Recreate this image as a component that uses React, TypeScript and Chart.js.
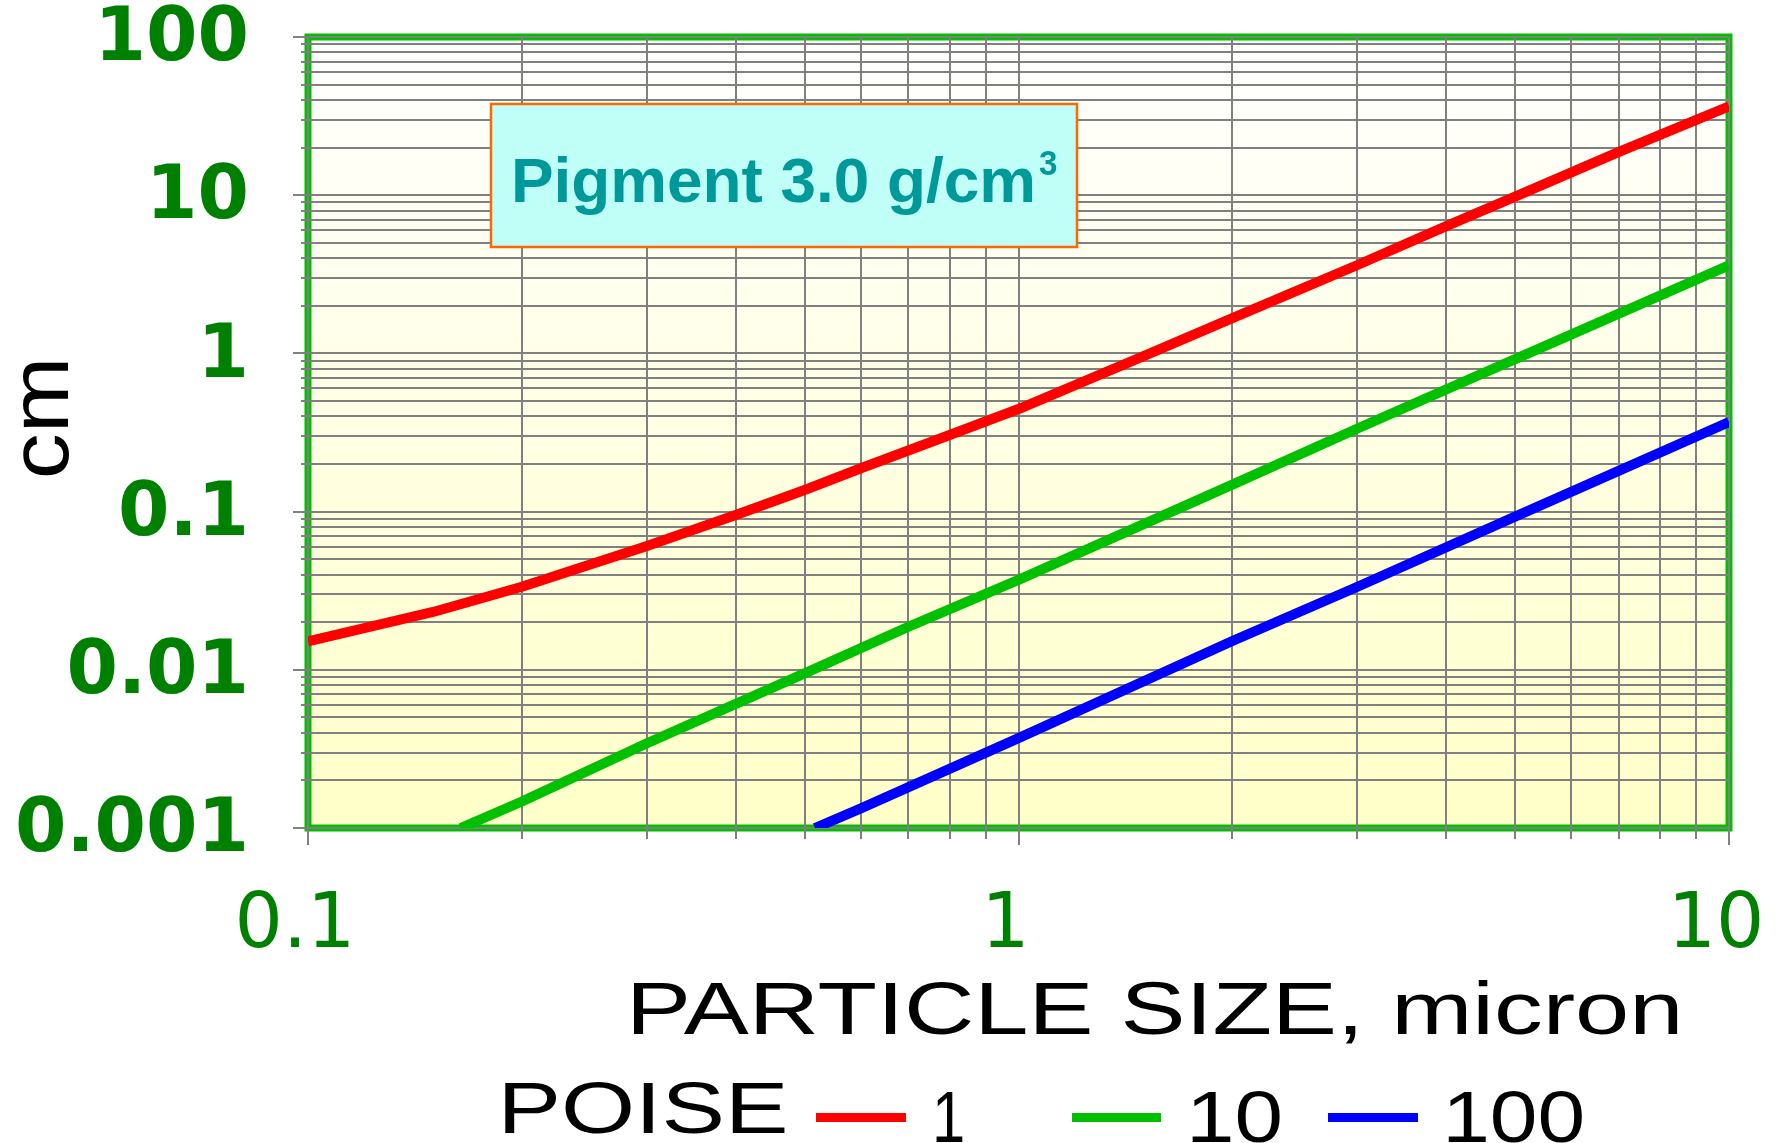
import React, { useEffect, useRef } from "react";
import { Chart, registerables } from "chart.js";

Chart.register(...registerables);

// ---- data ----
const redSizes = [0.1, 0.15, 0.2, 0.3, 0.4, 0.5, 0.6, 0.8, 1, 1.5, 2, 3, 4, 5, 7, 10];
const redValues = [0.0151, 0.0232, 0.0335, 0.0607, 0.0952, 0.137, 0.188, 0.305, 0.445, 0.96, 1.67, 3.62, 6.38, 9.8, 18.8, 36.5];
const greenSizes = [0.164, 0.2, 0.3, 0.5, 0.7, 1, 2, 3, 5, 10];
const greenValues = [0.001, 0.00147, 0.00343, 0.0095, 0.0187, 0.037, 0.148, 0.335, 0.92, 3.6];
const blueSizes = [0.517, 0.6, 1, 2, 3, 5, 10];
const blueValues = [0.001, 0.00133, 0.0037, 0.0152, 0.0335, 0.093, 0.368];

const seriesLabels = ["1", "10", "100"];
const seriesColors = ["#FF0000", "#00C000", "#0000FF"];

const yMajorTicks = [0.001, 0.01, 0.1, 1, 10, 100];
const yTickLabels = ["0.001", "0.01", "0.1", "1", "10", "100"];
const xMajorTicks = [0.1, 1, 10];
const xTickLabels = ["0.1", "1", "10"];
const minorSteps = [2, 3, 4, 5, 6, 7, 8, 9];

const legendTitle = "POISE";
const xTitle = "PARTICLE SIZE, micron";
const yTitle = "cm";
const noteText = "Pigment 3.0 g/cm";
const noteSup = "3";

// ---- helpers ----
const buildTicks = (majors: number[]) => {
  const out: number[] = [];
  majors.forEach((m, i) => {
    out.push(m);
    if (i < majors.length - 1) minorSteps.forEach((s) => out.push(m * s));
  });
  return out;
};
const majorIndex = (v: number, majors: number[]) =>
  majors.findIndex((m) => Math.abs(v - m) <= m * 1e-6);
const labelFor = (v: number, majors: number[], labels: string[]) => {
  const i = majorIndex(v, majors);
  return i >= 0 ? labels[i] : "";
};
const toPoints = (xs: number[], ys: number[]) => xs.map((x, i) => ({ x, y: ys[i] }));

// draw text so that its ink spans [left, right] horizontally with given baseline
function drawInk(
  ctx: CanvasRenderingContext2D,
  text: string,
  left: number,
  right: number,
  baseline: number,
  font: string,
  color: string
) {
  ctx.save();
  ctx.font = font;
  ctx.fillStyle = color;
  ctx.textAlign = "left";
  ctx.textBaseline = "alphabetic";
  const m = ctx.measureText(text);
  const inkW = m.actualBoundingBoxRight + m.actualBoundingBoxLeft;
  const sx = inkW > 0 ? (right - left) / inkW : 1;
  ctx.translate(left, baseline);
  ctx.scale(sx, 1);
  ctx.fillText(text, m.actualBoundingBoxLeft, 0);
  ctx.restore();
}

const decorPlugin = {
  id: "decor",
  beforeDraw(chart: any) {
    const { ctx, chartArea: a } = chart;
    ctx.save();
    const g = ctx.createLinearGradient(0, a.top, 0, a.bottom);
    g.addColorStop(0, "#FFFFFF");
    g.addColorStop(1, "#FFFFC8");
    ctx.fillStyle = g;
    ctx.fillRect(a.left, a.top, a.right - a.left, a.bottom - a.top);
    ctx.strokeStyle = "#00C000";
    ctx.lineWidth = 7;
    ctx.strokeRect(a.left, a.top, a.right - a.left, a.bottom - a.top);
    ctx.restore();
  },
  afterDraw(chart: any) {
    const { ctx, chartArea: a } = chart;
    const xs = chart.scales.x;
    const ys = chart.scales.y;
    ctx.save();
    ctx.strokeStyle = "#808080";
    ctx.lineWidth = 2;
    // tick marks
    ys.ticks.forEach((t: any) => {
      const y = Math.round(ys.getPixelForValue(t.value));
      const len = majorIndex(t.value, yMajorTicks) >= 0 ? 15 : 7;
      ctx.beginPath();
      ctx.moveTo(a.left - len, y);
      ctx.lineTo(a.left, y);
      ctx.stroke();
    });
    xs.ticks.forEach((t: any) => {
      const x = Math.round(xs.getPixelForValue(t.value));
      const len = majorIndex(t.value, xMajorTicks) >= 0 ? 17 : 11;
      ctx.beginPath();
      ctx.moveTo(x, a.bottom);
      ctx.lineTo(x, a.bottom + len);
      ctx.stroke();
    });
    ctx.restore();

    // annotation box
    ctx.save();
    ctx.fillStyle = "#C0FFF8";
    ctx.fillRect(491, 104, 586, 143);
    ctx.strokeStyle = "#FF6600";
    ctx.lineWidth = 2.5;
    ctx.strokeRect(491, 104, 586, 143);
    ctx.restore();
    drawInk(ctx, noteText, 515, 1033, 202, "bold 63px 'Liberation Sans', Arial, sans-serif", "#009999");
    drawInk(ctx, noteSup, 1039, 1057, 175, "bold 35px 'Liberation Sans', Arial, sans-serif", "#009999");

    // axis titles
    drawInk(ctx, xTitle, 634, 1678, 1034, "74px 'Liberation Sans', Arial, sans-serif", "#000000");
    ctx.save();
    ctx.translate(68, 476);
    ctx.rotate(-Math.PI / 2);
    drawInk(ctx, yTitle, 0, 114, 0, "84px 'Liberation Sans', Arial, sans-serif", "#000000");
    ctx.restore();

    // legend
    const font = "73px 'Liberation Sans', Arial, sans-serif";
    drawInk(ctx, legendTitle, 504, 785, 1133, font, "#000000");
    const lineSpans = [
      [816, 906],
      [1072, 1161],
      [1328, 1418],
    ];
    const textSpans = [
      [936, 963],
      [1192, 1280],
      [1448, 1582],
    ];
    chart.data.datasets.forEach((ds: any, i: number) => {
      ctx.save();
      ctx.fillStyle = ds.borderColor;
      ctx.fillRect(lineSpans[i][0], 1113, lineSpans[i][1] - lineSpans[i][0], 9);
      ctx.restore();
      drawInk(ctx, ds.label, textSpans[i][0], textSpans[i][1], 1142, font, "#000000");
    });
  },
};

export default function App() {
  const ref = useRef<HTMLCanvasElement>(null);

  useEffect(() => {
    const canvas = ref.current;
    if (!canvas) return;
    const seriesData = [
      toPoints(redSizes, redValues),
      toPoints(greenSizes, greenValues),
      toPoints(blueSizes, blueValues),
    ];
    const chart = new Chart(canvas, {
      type: "line",
      data: {
        datasets: seriesData.map((d, i) => ({
          label: seriesLabels[i],
          data: d,
          borderColor: seriesColors[i],
          backgroundColor: seriesColors[i],
          borderWidth: 10,
          pointRadius: 0,
          tension: 0,
          fill: false,
          borderJoinStyle: "round" as const,
        })),
      },
      options: {
        animation: false,
        responsive: false,
        devicePixelRatio: 1,
        layout: { padding: { top: 37, right: 55, left: 0, bottom: 0 } },
        plugins: { legend: { display: false }, tooltip: { enabled: false }, title: { display: false } },
        scales: {
          x: {
            type: "logarithmic",
            min: 0.1,
            max: 10,
            afterBuildTicks: (s: any) => {
              s.ticks = buildTicks(xMajorTicks).map((value) => ({ value }));
            },
            afterFit: (s: any) => {
              s.height = 315;
              s.paddingLeft = 0;
              s.paddingRight = 0;
            },
            grid: { color: "#808080", lineWidth: 2, drawTicks: false },
            border: { display: false },
            ticks: {
              autoSkip: false,
              maxRotation: 0,
              minRotation: 0,
              padding: 61,
              labelOffset: -13,
              color: "#008000",
              font: { family: "'DejaVu Sans'", size: 76, lineHeight: 1 },
              callback: (v: any) => labelFor(Number(v), xMajorTicks, xTickLabels),
            },
          },
          y: {
            type: "logarithmic",
            min: 0.001,
            max: 100,
            afterBuildTicks: (s: any) => {
              s.ticks = buildTicks(yMajorTicks).map((value) => ({ value }));
            },
            afterFit: (s: any) => {
              s.width = 308;
              s.paddingTop = 0;
              s.paddingBottom = 0;
            },
            grid: { color: "#808080", lineWidth: 2, drawTicks: false },
            border: { display: false },
            ticks: {
              autoSkip: false,
              padding: 59,
              labelOffset: 4,
              color: "#008000",
              font: { family: "'DejaVu Sans'", size: 74, weight: "bold", lineHeight: 1 },
              callback: (v: any) => labelFor(Number(v), yMajorTicks, yTickLabels),
            },
          },
        },
      },
      plugins: [decorPlugin],
    } as any);
    return () => chart.destroy();
  }, []);

  return (
    <div style={{ position: "absolute", left: 0, top: 0, width: 1784, height: 1143 }}>
      <canvas ref={ref} width={1784} height={1143} style={{ display: "block", width: 1784, height: 1143 }} />
    </div>
  );
}
